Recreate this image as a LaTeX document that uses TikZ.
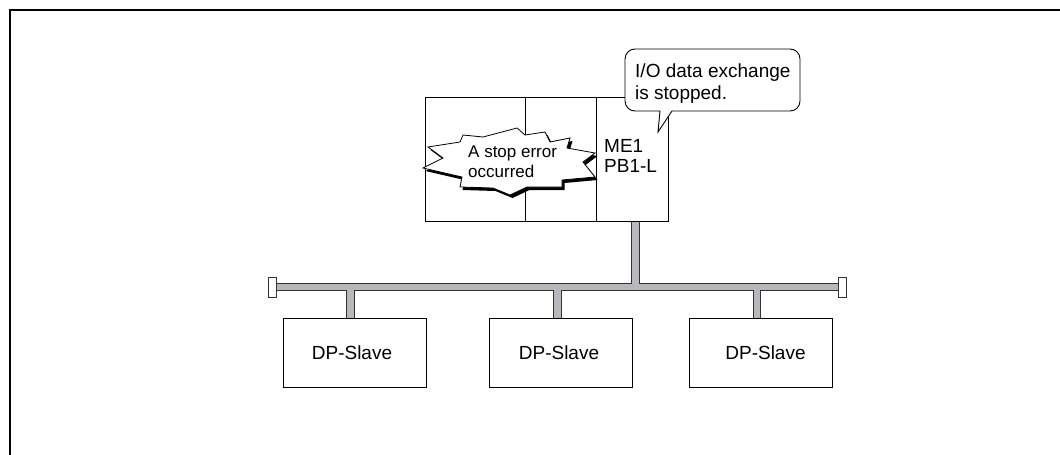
\documentclass[tikz,border=0pt]{standalone}
\usepackage{fontspec}
\setmainfont{Liberation Sans}
\begin{document}
\begin{tikzpicture}[x=1pt,y=-1pt,
  frameline/.style={line width=2pt,black},
  rackline/.style={line width=0.9pt,black},
  slavebox/.style={draw=black,line width=0.9pt,fill=white,minimum width=143pt,minimum height=69pt,inner sep=0pt},
  lbl/.style={inner sep=0pt,align=left,font=\fontsize{19}{20}\selectfont},
  busdark/.style={line width=8.5pt,draw=black!80},
  buslight/.style={line width=6.5pt,draw=busgray},
  capbox/.style={draw=black!80,line width=0.9pt,fill=white,minimum width=8pt,minimum height=20pt,inner sep=0pt}
]
\definecolor{busgray}{RGB}{184,184,188}
\useasboundingbox (0,0) rectangle (1060,455);
% frame
\draw[frameline] (9,10) -- (1060,10);
\draw[frameline] (10,9) -- (10,455);

% rack
\node[draw=black,line width=0.9pt,minimum width=243pt,minimum height=124pt,inner sep=0pt,anchor=north west] (rack) at (425,97) {};
\draw[rackline] (525,97) -- (525,221);
\draw[rackline] (596,97) -- (596,221);

% bus coordinates
\coordinate (busL) at (276,287);
\coordinate (busR) at (838,287);
\coordinate (stemB) at (635.5,287);
\coordinate (d1) at (350.5,287);
\coordinate (d2) at (557.5,287);
\coordinate (d3) at (757,287);

% slaves
\node[slavebox] (s1) at (354.5,352.5) {};
\node[slavebox] (s2) at (561,352.5) {};
\node[slavebox] (s3) at (760.5,352.5) {};
\node[lbl] (t1) at (352,352.5) {DP-Slave};
\node[lbl] (t2) at (559,352.5) {DP-Slave};
\node[lbl] (t3) at (765.5,352.5) {DP-Slave};

% bus
\draw[busdark] (busL) -- (busR);
\draw[busdark] (rack.south -| stemB) -- (stemB);
\draw[busdark] (d1) -- (d1 |- s1.north);
\draw[busdark] (d2) -- (d2 |- s2.north);
\draw[busdark] (d3) -- (d3 |- s3.north);
\draw[buslight] (busL) -- (busR);
\draw[buslight] ([yshift=-0.5pt]rack.south -| stemB) -- (stemB);
\draw[buslight] (d1) -- ([yshift=-0.5pt]d1 |- s1.north);
\draw[buslight] (d2) -- ([yshift=-0.5pt]d2 |- s2.north);
\draw[buslight] (d3) -- ([yshift=-0.5pt]d3 |- s3.north);
\node[capbox] (capL) at (272,287) {};
\node[capbox] (capR) at (842,287) {};

% ME1 label
\node[lbl,anchor=north west] (me) at (604,139) {ME1\\PB1-L};

% explosion
\def\starpath{(428,147) -- (460,142) -- (463,135) -- (483,137) -- (517,128) -- (525,135) -- (545,132) -- (550,142) -- (570,138) -- (567,148) -- (595,153) -- (583,162) -- (595,177) -- (562,180) -- (562,187) -- (527,187) -- (510,195) -- (493,188) -- (460,187) -- (462,177) -- (423,168) -- (443,158) -- cycle}
\fill[black,shift={(2.5,3)}] \starpath;
\draw[black,line width=0.8pt,fill=white] \starpath;
\node[inner sep=0pt,align=left,font=\fontsize{17}{20}\selectfont,anchor=north west] (err) at (468,146) {A stop error\\occurred};

% callout
\draw[black,line width=0.9pt,fill=white] (660,111) [rounded corners=10pt] -- (625,111) -- (625,49) -- (800,49) -- (800,111) [sharp corners] -- (672,111) -- (658,132) -- cycle;
\node[inner sep=0pt,align=left,font=\fontsize{19}{22}\selectfont,anchor=north west] (msg) at (635,64) {I/O data exchange\\is stopped.};
\end{tikzpicture}
\end{document}
